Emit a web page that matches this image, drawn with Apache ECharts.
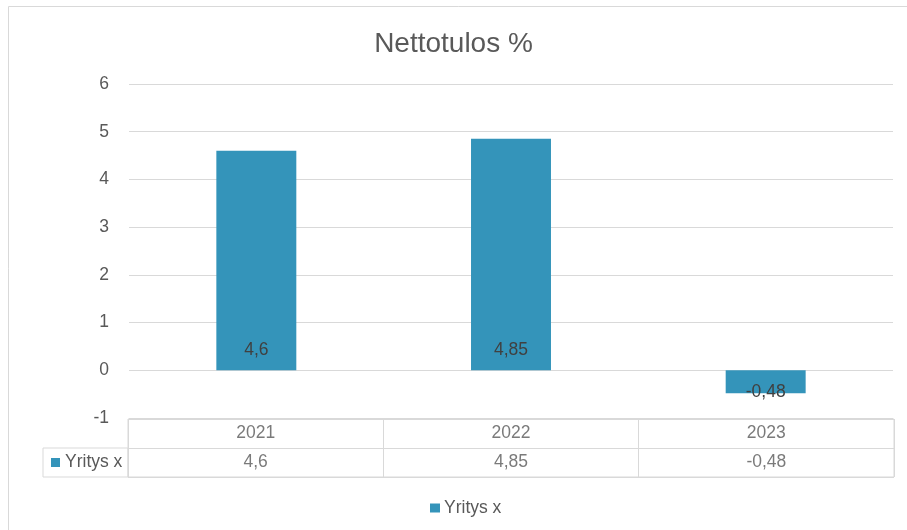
<!DOCTYPE html>
<html>
<head>
<meta charset="utf-8">
<script src="https://cdn.jsdelivr.net/npm/echarts@6/dist/echarts.min.js"></script>
<style>
html,body{margin:0;padding:0;background:#fff;}
#c{width:907px;height:530px;}
</style>
</head>
<body>
<div id="c"></div>
<script>
const title = 'Nettotulos %';
const seriesName = 'Yritys x';
const categories = ['2021', '2022', '2023'];
const values = [4.6, 4.85, -0.48];
const yTicks = { min: -1, max: 6, interval: 1 };

const fmt = v => String(v).replace('.', ',');
const FONT = 'Liberation Sans';
const FS = 17.5;
const TXT = '#595959';
const LINE = '#d9d9d9';
const BAR = '#3494BA';

const chart = echarts.init(document.getElementById('c'), null, { renderer: 'canvas' });
chart.setOption({
  animation: false,
  textStyle: { fontFamily: FONT },
  title: {
    text: title, left: 'center', top: 25,
    textStyle: { fontFamily: FONT, fontSize: 28, fontWeight: 'normal', color: TXT }
  },
  graphic: [{
    type: 'rect', silent: true, z: -10,
    shape: { x: 8.5, y: 6.5, width: 1000, height: 600 },
    style: { fill: 'none', stroke: LINE, lineWidth: 1 }
  }],
  legend: {
    data: [seriesName], left: 430, top: 499, padding: 0,
    icon: 'rect', itemWidth: 10, itemHeight: 9, itemGap: 4,
    textStyle: { fontFamily: FONT, fontSize: FS, color: TXT, padding: [0, 0, 0, -1] }
  },
  grid: [
    { left: 129, right: 14, top: 84, bottom: 112, show: false },
    { left: 128, right: 13, top: 419, height: 58, show: true, borderColor: LINE, borderWidth: 1, backgroundColor: 'transparent' },
    { left: 43, width: 85, top: 448, height: 29, show: true, borderColor: LINE, borderWidth: 1, backgroundColor: 'transparent' }
  ],
  xAxis: [
    { gridIndex: 0, type: 'category', data: categories,
      axisLine: { show: false, onZero: false }, axisTick: { show: false }, axisLabel: { show: false } },
    { gridIndex: 1, type: 'category', data: categories,
      axisLine: { show: false }, axisTick: { show: false }, axisLabel: { show: false },
      splitLine: { show: true, interval: 0, lineStyle: { color: LINE, width: 1 } } },
    { gridIndex: 2, type: 'value', show: false }
  ],
  yAxis: [
    { gridIndex: 0, type: 'value', min: yTicks.min, max: yTicks.max, interval: yTicks.interval,
      axisLine: { show: false }, axisTick: { show: false },
      axisLabel: { fontFamily: FONT, fontSize: FS, color: TXT, margin: 20 },
      splitLine: { lineStyle: { color: LINE, width: 1 } } },
    { gridIndex: 1, type: 'category', data: ['head', 'vals'], inverse: true,
      axisLine: { show: false }, axisTick: { show: false }, axisLabel: { show: false },
      splitLine: { show: true, interval: 0, lineStyle: { color: LINE, width: 1 } } },
    { gridIndex: 2, type: 'category', data: [seriesName],
      axisLine: { show: false }, axisTick: { show: false },
      axisLabel: { inside: true, margin: 8, formatter: v => '{sq|}{t|' + v + '}',
        rich: {
          sq: { width: 9, height: 9, backgroundColor: BAR },
          t: { fontFamily: FONT, fontSize: FS, color: TXT, padding: [0, 0, 0, 5] }
        } } }
  ],
  series: [
    {
      name: seriesName, type: 'bar', xAxisIndex: 0, yAxisIndex: 0,
      barWidth: '31.4%',
      itemStyle: { color: BAR },
      data: values.map(v => ({
        value: v,
        label: v >= 0
          ? { show: true, position: 'insideBottom', distance: 11 }
          : { show: true, position: 'inside', offset: [0, 10] }
      })),
      label: { formatter: p => fmt(p.value), fontFamily: FONT, fontSize: FS, color: '#404040' }
    },
    {
      type: 'scatter', xAxisIndex: 1, yAxisIndex: 1, symbolSize: 0, silent: true,
      data: categories.map((c, i) => [i, 0]),
      label: { show: true, position: 'inside', formatter: p => categories[p.value[0]],
        fontFamily: FONT, fontSize: FS, color: TXT }
    },
    {
      type: 'scatter', xAxisIndex: 1, yAxisIndex: 1, symbolSize: 0, silent: true,
      data: values.map((v, i) => [i, 1, v]),
      label: { show: true, position: 'inside', formatter: p => fmt(p.value[2]),
        fontFamily: FONT, fontSize: FS, color: TXT }
    }
  ]
});
</script>
</body>
</html>
